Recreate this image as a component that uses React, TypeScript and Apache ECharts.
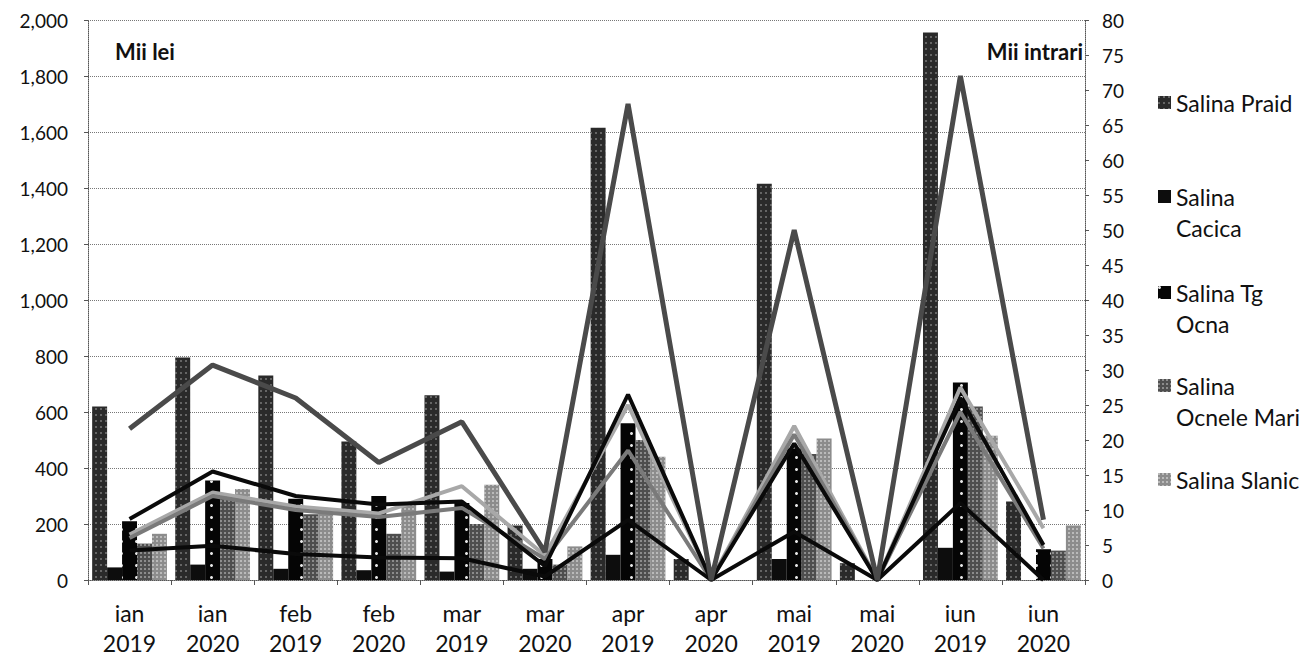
import React, { useEffect, useRef } from "react";
import * as echarts from "echarts";

const categories = ["ian\n2019", "ian\n2020", "feb\n2019", "feb\n2020", "mar\n2019", "mar\n2020", "apr\n2019", "apr\n2020", "mai\n2019", "mai\n2020", "iun\n2019", "iun\n2020"];
const seriesNames = ["Salina Praid", "Salina Cacica", "Salina Tg Ocna", "Salina Ocnele Mari", "Salina Slanic"];
const legendLabels = ["Salina Praid", "Salina\nCacica", "Salina Tg\nOcna", "Salina\nOcnele Mari", "Salina Slanic"];

// Venituri (Mii lei) - bare
const revPraid = [620, 795, 730, 495, 660, 195, 1615, 75, 1415, 60, 1955, 280];
const revCacica = [45, 55, 40, 35, 30, 40, 90, 0, 75, 0, 115, 0];
const revTgOcna = [210, 355, 290, 300, 275, 75, 560, 0, 470, 0, 705, 110];
const revOcneleMari = [130, 300, 235, 165, 200, 55, 500, 0, 450, 0, 620, 105];
const revSlanic = [165, 325, 240, 270, 340, 120, 440, 0, 505, 0, 515, 195];

// Vizitatori (Mii intrari) - linii
const visPraid = [21.6, 30.7, 26, 16.8, 22.6, 4, 68, 0, 50, 0, 72, 8.6];
const visCacica = [4.2, 4.9, 3.7, 3.2, 3.1, 0.5, 8.6, 0, 6.9, 0, 11, 0];
const visTgOcna = [8.7, 15.5, 12, 10.8, 11.2, 2, 26.5, 0, 19.5, 0, 26, 5];
const visOcneleMari = [6, 12, 10, 9, 10.3, 3, 18.5, 0, 20.8, 0, 24, 4.5];
const visSlanic = [6.5, 12.5, 10.5, 9.5, 13.4, 3.5, 25, 0, 22, 0, 27.5, 7.4];

const leftAxis = { min: 0, max: 2000, interval: 200 };
const rightAxis = { min: 0, max: 80, interval: 5 };

const barColors = ["#2a2a2a", "#0d0d0d", "#050505", "#4e4e4e", "#8c8c8c"];
const lineColors = ["#4a4a4a", "#0a0a0a", "#0a0a0a", "#7a7a7a", "#a8a8a8"];
const legendTops = [87, 181, 277, 370, 464];

const FONT = "Lato";
const TWO_LINE_ICON = "path://M0,0L13,0L13,13L0,13Z M0,44L0.01,44L0,44.01Z";

export default function App() {
  const ref = useRef<HTMLDivElement>(null);
  useEffect(() => {
    if (!ref.current) return;
    const chart = echarts.init(ref.current, undefined, { renderer: "svg" });
    const revs = [revPraid, revCacica, revTgOcna, revOcneleMari, revSlanic];
    const viss = [visPraid, visCacica, visTgOcna, visOcneleMari, visSlanic];
    const decals: any[] = [
      { symbol: "rect", symbolSize: 1, color: "rgba(255,255,255,0.28)", dashArrayX: [2, 3], dashArrayY: [2, 4] },
      null,
      { symbol: "circle", symbolSize: 1, color: "rgba(255,255,255,0.9)", dashArrayX: [3, 12], dashArrayY: [3, 9] },
      { symbol: "rect", symbolSize: 1, color: "rgba(255,255,255,0.35)", dashArrayX: [2, 2], dashArrayY: [2, 2] },
      { symbol: "rect", symbolSize: 1, color: "rgba(255,255,255,0.4)", dashArrayX: [2, 2], dashArrayY: [2, 2] },
    ];
    const barSeries = seriesNames.map((name, i) => ({
      name,
      type: "bar",
      yAxisIndex: 0,
      data: revs[i],
      barGap: "0%",
      barCategoryGap: "10%",
      itemStyle: decals[i] ? { color: barColors[i], decal: decals[i] } : { color: barColors[i] },
      z: 2,
    }));
    const lineSeries = seriesNames.map((name, i) => ({
      name: name + " (intrari)",
      type: "line",
      yAxisIndex: 1,
      data: viss[i],
      symbol: "none",
      lineStyle: { color: lineColors[i], width: i === 0 ? 5 : 4 },
      itemStyle: { color: lineColors[i] },
      z: 3 + (4 - i),
    }));
    const legends = seriesNames.map((name, i) => {
      const twoLine = legendLabels[i].includes("\n");
      return {
        data: [name],
        orient: "vertical",
        left: 1158,
        top: legendTops[i],
        padding: 0,
        icon: twoLine ? TWO_LINE_ICON : "rect",
        itemWidth: 13,
        itemHeight: twoLine ? 44 : 13,
        itemGap: 0,
        selectedMode: false,
        formatter: () => legendLabels[i],
        textStyle: {
          fontFamily: FONT,
          fontSize: 23,
          color: "#111",
          lineHeight: 31,
        },
      };
    });
    const axisLabelStyle = { fontFamily: FONT, fontSize: 19, color: "#111" };
    chart.setOption({
      animation: false,
      backgroundColor: "#ffffff",
      grid: { left: 88, right: 229, top: 20, bottom: 73, containLabel: false },
      legend: legends,
      xAxis: {
        type: "category",
        data: categories,
        axisLine: { show: true, lineStyle: { color: "#555", type: "dotted", width: 1 } },
        axisTick: { show: true, length: 5, lineStyle: { color: "#555" } },
        axisLabel: { ...axisLabelStyle, fontSize: 23, margin: 18, lineHeight: 30, interval: 0 },
      },
      yAxis: [
        {
          type: "value",
          position: "left",
          ...leftAxis,
          axisLine: { show: true, lineStyle: { color: "#555", type: "dotted" } },
          axisTick: { show: true, length: 4, lineStyle: { color: "#555" } },
          splitLine: { show: true, lineStyle: { color: "#777", type: "dotted" } },
          axisLabel: {
            ...axisLabelStyle,
            margin: 20,
            formatter: (v: number) => v.toLocaleString("en-US"),
          },
        },
        {
          type: "value",
          position: "right",
          ...rightAxis,
          axisLine: { show: true, lineStyle: { color: "#555", type: "dotted" } },
          axisTick: { show: true, length: 4, lineStyle: { color: "#555" } },
          splitLine: { show: false },
          axisLabel: { ...axisLabelStyle, margin: 17 },
        },
      ],
      graphic: [
        { type: "text", left: 115, top: 40, style: { text: "Mii lei", fontFamily: FONT, fontWeight: "bold", fontSize: 22, fill: "#111" } },
        { type: "text", right: 231, top: 40, style: { text: "Mii intrari", fontFamily: FONT, fontWeight: "bold", fontSize: 22, fill: "#111" } },
      ],
      series: [...barSeries, ...lineSeries],
    });
    return () => chart.dispose();
  }, []);
  return <div ref={ref} style={{ position: "fixed", left: 0, top: 0, width: 1314, height: 658, background: "#fff" }} />;
}
